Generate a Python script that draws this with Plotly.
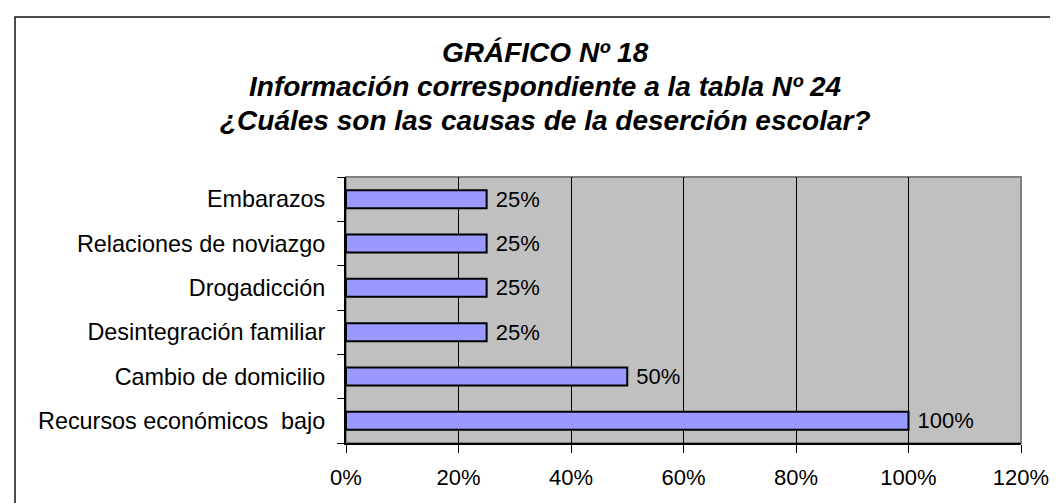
import plotly.graph_objects as go

categories = ["Recursos económicos  bajo", "Cambio de domicilio", "Desintegración familiar",
              "Drogadicción", "Relaciones de noviazgo", "Embarazos"]
values = [1.00, 0.50, 0.25, 0.25, 0.25, 0.25]
value_labels = [" 100%", " 50%", " 25%", " 25%", " 25%", " 25%"]
x_ticks = [0, 0.2, 0.4, 0.6, 0.8, 1.0, 1.2]
x_tick_labels = ["0%", "20%", "40%", "60%", "80%", "100%", "120%"]
title_lines = ["GRÁFICO Nº 18",
               "Información correspondiente a la tabla Nº 24",
               "¿Cuáles son las causas de la deserción escolar?"]

W, H = 1058, 503
L, R, T, B = 338, 1058 - 1013, 169, 503 - 435
FONT = "Liberation Sans, Arial, sans-serif"

fig = go.Figure()
fig.add_trace(go.Bar(
    x=values, y=categories, orientation="h",
    marker=dict(color="#9999FF", line=dict(color="black", width=2)),
    text=value_labels, textposition="outside", constraintext="none",
    textfont=dict(family=FONT, size=22, color="black"),
    cliponaxis=False, hoverinfo="skip",
))

pw = W - L - R
ph = H - T - B
def px_x(p):
    return (p - L) / pw
def px_y(p):
    return (H - B - p) / ph

# outer frame
fig.add_shape(type="rect", xref="paper", yref="paper",
              x0=px_x(7), x1=px_x(1066), y0=px_y(512), y1=px_y(9),
              line=dict(color="#111111", width=1.5), layer="below")
# plot area border (grey top/right)
fig.add_shape(type="rect", xref="paper", yref="paper",
              x0=0, x1=1, y0=0, y1=1,
              line=dict(color="#808080", width=2), layer="below")

title_y = [44, 79, 112]
for txt, yy in zip(title_lines, title_y):
    fig.add_annotation(text=f"<b><i>{txt}</i></b>", xref="paper", yref="paper",
                       x=px_x(537), y=px_y(yy), xanchor="center", yanchor="middle",
                       showarrow=False, font=dict(family=FONT, size=28, color="black"))

fig.update_layout(
    width=W, height=H,
    margin=dict(l=L, r=R, t=T, b=B, pad=0),
    paper_bgcolor="white", plot_bgcolor="#C0C0C0",
    showlegend=False, bargap=0.594,
    font=dict(family=FONT, size=22, color="black"),
)
fig.update_xaxes(range=[0, 1.2], tickvals=x_ticks, ticktext=x_tick_labels,
                 showgrid=True, gridcolor="black", gridwidth=1,
                 showline=True, linecolor="black", linewidth=2,
                 ticks="outside", ticklen=8, tickcolor="black", tickwidth=1,
                 tickfont=dict(family=FONT, size=22, color="black"),
                 ticklabelstandoff=6, zeroline=False, fixedrange=True)
fig.update_yaxes(range=[-0.5, 5.5], type="category", categoryorder="array",
                 categoryarray=categories,
                 showgrid=False, showline=True, linecolor="black", linewidth=2,
                 ticks="outside", ticklen=7, tickcolor="black", tickwidth=1,
                 tickson="boundaries",
                 tickfont=dict(family=FONT, size=23.4, color="black"),
                 ticklabelstandoff=14, fixedrange=True)

fig.write_html("out.html")
